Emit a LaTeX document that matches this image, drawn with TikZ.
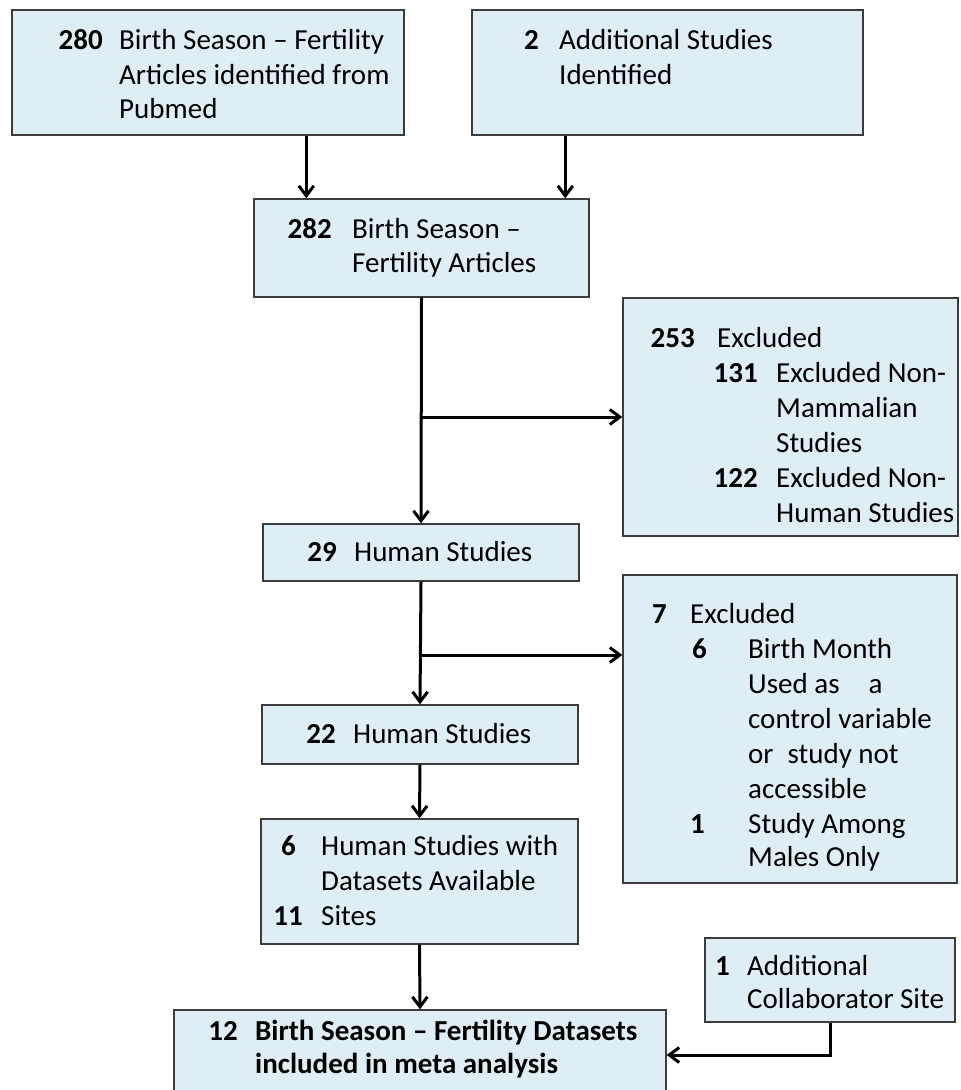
\documentclass[tikz,border=0pt]{standalone}
\usepackage{fontspec}
\setmainfont{Carlito}
\usetikzlibrary{arrows.meta}
\definecolor{boxfill}{RGB}{223,238,244}
\definecolor{boxline}{RGB}{60,60,60}
\tikzset{
  box/.style={draw=boxline, fill=boxfill, line width=1.4pt, inner sep=0pt, rectangle},
  arr/.style={draw=black, line width=3pt, -{Straight Barb[length=10pt,width=15pt,line width=3pt]}},
  num/.style={anchor=base east, inner sep=0pt, font=\fontsize{29}{35}\selectfont\bfseries},
  txt/.style={anchor=base west, inner sep=0pt, font=\fontsize{29}{35}\selectfont},
  btxt/.style={anchor=base west, inner sep=0pt, font=\fontsize{29}{35}\selectfont\bfseries}
}
\begin{document}
\begin{tikzpicture}[x=1pt,y=-1pt]
\useasboundingbox (0,0) rectangle (961,1090);
% boxes
\node[box, minimum width=392pt, minimum height=125pt] (A) at (208,72.5) {};
\node[box, minimum width=391pt, minimum height=125pt] (B) at (667.5,72.5) {};
\node[box, minimum width=335pt, minimum height=98pt] (C) at (421.5,248) {};
\node[box, minimum width=335pt, minimum height=238pt] (D) at (790.5,417) {};
\node[box, minimum width=316pt, minimum height=57pt] (E) at (421,552.5) {};
\node[box, minimum width=334pt, minimum height=308pt] (F) at (790,729) {};
\node[box, minimum width=316pt, minimum height=59pt] (G) at (420,734.5) {};
\node[box, minimum width=317pt, minimum height=125pt] (H) at (419.5,881.5) {};
\node[box, minimum width=250pt, minimum height=84pt] (I) at (830,980) {};
\node[box, minimum width=492pt, minimum height=90pt] (J) at (420,1055) {};
% texts A
\node[num] (a0) at (103,49) {280};
\node[txt] (a1) at (119,49) {Birth Season – Fertility};
\node[txt] (a2) at (119,84) {Articles identified from};
\node[txt] (a3) at (119,118) {Pubmed};
% texts B
\node[num] (b0) at (539,49) {2};
\node[txt] (b1) at (559,49) {Additional Studies};
\node[txt] (b2) at (559,84) {Identified};
% texts C
\node[num] (c0) at (332,238) {282};
\node[txt] (c1) at (352,238) {Birth Season –};
\node[txt] (c2) at (352,272) {Fertility Articles};
% texts D
\node[num] (d0) at (695,347) {253};
\node[txt] (d1) at (717,347) {Excluded};
\node[num] (d2) at (758,382) {131};
\node[txt] (d3) at (776,382) {Excluded Non-};
\node[txt] (d4) at (776,417) {Mammalian};
\node[txt] (d5) at (776,452) {Studies};
\node[num] (d6) at (758,487) {122};
\node[txt] (d7) at (776,487) {Excluded Non-};
\node[txt] (d8) at (776,522) {Human Studies};
% texts E
\node[num] (e0) at (337,561) {29};
\node[txt] (e1) at (354,561) {Human Studies};
% texts F
\node[num] (f0) at (667,623) {7};
\node[txt] (f1) at (690,623) {Excluded};
\node[num] (f2) at (707,658) {6};
\node[txt] (f3) at (748,658) {Birth Month};
\node[txt] (f4) at (748,693) {Used as\hspace{29pt}a};
\node[txt] (f5) at (748,728) {control variable};
\node[txt] (f6) at (748,763) {or\hspace{14pt}study not};
\node[txt] (f7) at (748,798) {accessible};
\node[num] (f8) at (705,833) {1};
\node[txt] (f9) at (748,833) {Study Among};
\node[txt] (f10) at (748,866) {Males Only};
% texts G
\node[num] (g0) at (336,743) {22};
\node[txt] (g1) at (353,743) {Human Studies};
% texts H
\node[num] (h0) at (296,855) {6};
\node[txt] (h1) at (321,855) {Human Studies with};
\node[txt] (h2) at (321,890) {Datasets Available};
\node[num] (h3) at (303,925) {11};
\node[txt] (h4) at (321,925) {Sites};
% texts I
\node[num] (i0) at (730,975) {1};
\node[txt] (i1) at (747,975) {Additional};
\node[txt] (i2) at (747,1008) {Collaborator Site};
% texts J
\node[num] (j0) at (238,1040) {12};
\node[btxt] (j1) at (255,1040) {Birth Season – Fertility Datasets};
\node[btxt] (j2) at (255,1073) {included in meta analysis};
% connectors
\draw[arr] ([xshift=295pt]A.south west) -- ([xshift=53pt]C.north west);
\draw[arr] ([xshift=94pt]B.south west) -- ([xshift=312pt]C.north west);
\draw[arr] (C.south) -- (E.north);
\draw[arr] (C.south |- D.west) -- (D.west);
\draw[arr] (E.south) -- (G.north);
\coordinate (Fin) at ([yshift=74pt]F.west);
\draw[arr] (E.south |- Fin) -- (Fin);
\draw[arr] (G.south) -- (H.north);
\draw[arr] (H.south) -- (J.north);
\draw[arr] (I.south) |- (J.east);
\end{tikzpicture}
\end{document}
